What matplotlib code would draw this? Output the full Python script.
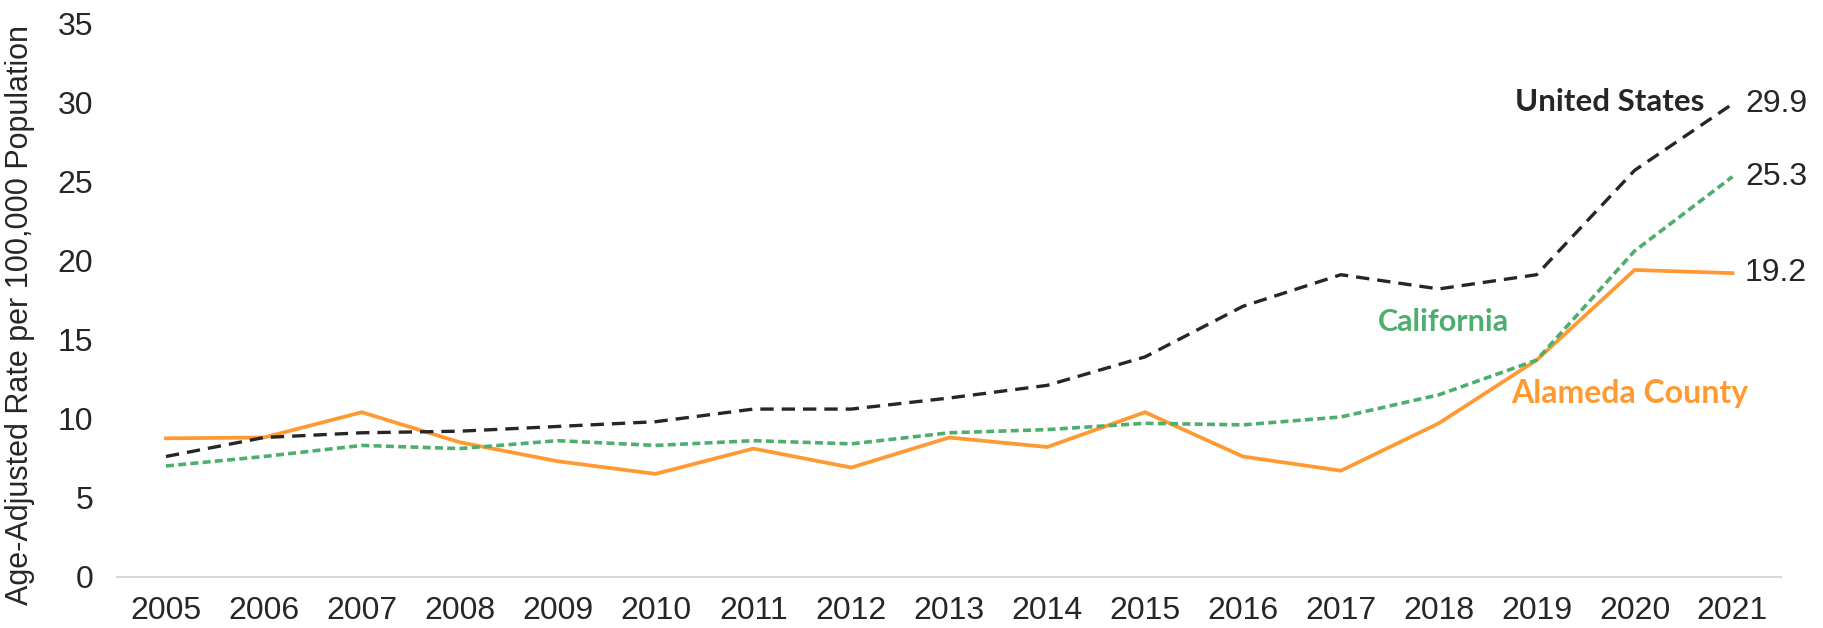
import matplotlib.pyplot as plt

years = list(range(2005, 2022))
us_rate = [7.6, 8.8, 9.1, 9.2, 9.5, 9.8, 10.6, 10.6, 11.3, 12.1, 13.9, 17.1, 19.1, 18.2, 19.1, 25.7, 29.9]
ca_rate = [7.0, 7.6, 8.3, 8.1, 8.6, 8.3, 8.6, 8.4, 9.1, 9.3, 9.7, 9.6, 10.1, 11.5, 13.7, 20.6, 25.3]
alameda_rate = [8.75, 8.8, 10.4, 8.5, 7.3, 6.5, 8.1, 6.9, 8.8, 8.2, 10.4, 7.6, 6.7, 9.7, 13.7, 19.4, 19.2]

US_COLOR = '#262626'
CA_COLOR = '#4DAE6D'
AC_COLOR = '#FF9A33'

plt.rcParams['font.family'] = ['Liberation Sans', 'DejaVu Sans']

fig = plt.figure(figsize=(18.23, 6.28), dpi=100)
ax = fig.add_axes([0.0642, 0.0818, 0.913, 0.881])

ax.plot(years, alameda_rate, color=AC_COLOR, lw=2.7, solid_joinstyle='miter')
ax.plot(years, ca_rate, color=CA_COLOR, lw=2.6, dashes=(2.2, 1.2))
ax.plot(years, us_rate, color=US_COLOR, lw=2.4, dashes=(4.0, 2.4))

ax.set_xlim(2004.5, 2021.5)
ax.set_ylim(0, 35)
ax.set_yticks(range(0, 36, 5))
ax.set_xticks(years)
ax.tick_params(length=0, labelsize=23, colors='#262626')
ax.tick_params(axis='y', pad=17)
ax.tick_params(axis='x', pad=14)

for s in ['top', 'right', 'left']:
    ax.spines[s].set_visible(False)
ax.spines['bottom'].set_color('#D9D9D9')
ax.spines['bottom'].set_linewidth(1.5)

ax.set_ylabel('Age-Adjusted Rate per 100,000 Population', fontsize=22, color='#262626')
ax.yaxis.set_label_coords(-0.049, 0.472)

# end-of-line values
for series in [us_rate, ca_rate, alameda_rate]:
    ax.annotate(f'{series[-1]:.1f}', xy=(years[-1], series[-1]), xytext=(9, 0),
                textcoords='offset points', va='center', ha='left', fontsize=23, color='#262626')

# series labels
lbl_font = ['Lato', 'DejaVu Sans']
ax.text(2020.71, 30.0, 'United States', color=US_COLOR, fontsize=22.5, fontweight='bold',
        family=lbl_font, ha='right', va='center')
ax.text(2018.72, 16.1, 'California', color=CA_COLOR, fontsize=22, fontweight='bold',
        family=lbl_font, ha='right', va='center')
ax.text(2018.74, 11.6, 'Alameda County', color=AC_COLOR, fontsize=23, fontweight='bold',
        family=lbl_font, ha='left', va='center')

fig.savefig('out.png', dpi=100)
